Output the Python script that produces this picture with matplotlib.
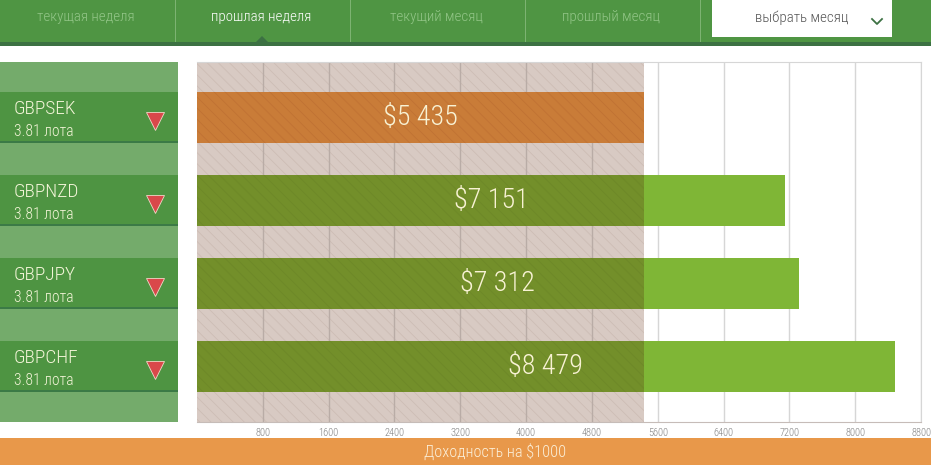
import matplotlib
matplotlib.use('Agg')
import matplotlib.pyplot as plt
from matplotlib.patches import Rectangle, Polygon
from matplotlib import font_manager

pairs = ['GBPSEK', 'GBPNZD', 'GBPJPY', 'GBPCHF']
lots = ['3.81 лота', '3.81 лота', '3.81 лота', '3.81 лота']
profits = [5435, 7151, 7312, 8479]
value_labels = ['$5 435', '$7 151', '$7 312', '$8 479']
xticks = [800, 1600, 2400, 3200, 4000, 4800, 5600, 6400, 7200, 8000, 8800]
tabs = ['текущая неделя', 'прошлая неделя', 'текущий месяц', 'прошлый месяц']
active_tab = 1
select_label = 'выбрать месяц'
footer = 'Доходность на $1000'

# look for a condensed face among installed fonts
entries = font_manager.fontManager.ttflist
fam, stretch, scale = 'DejaVu Sans', 'normal', 0.78
pref_names = ['Roboto Condensed', 'Open Sans Condensed', 'Noto Sans Condensed',
              'Liberation Sans Narrow', 'DejaVu Sans Condensed']
found = False
for pn in pref_names:
    if any(e.name == pn for e in entries):
        fam, stretch, scale, found = pn, 'normal', 0.9, True
        break
if not found:
    for base in ['Noto Sans', 'Open Sans', 'Roboto', 'DejaVu Sans']:
        hits = [e for e in entries if e.name == base and
                (str(e.stretch) in ('condensed', 'semi-condensed', 'extra-condensed')
                 or (isinstance(e.stretch, int) and e.stretch < 500))]
        if hits:
            fam, stretch, scale, found = base, 'condensed', 0.88, True
            break

plt.rcParams['font.family'] = [fam, 'DejaVu Sans']
plt.rcParams['font.stretch'] = stretch
plt.rcParams['font.weight'] = 'light'
plt.rcParams['hatch.linewidth'] = 0.6

W, H = 931, 465
fig = plt.figure(figsize=(W / 100, H / 100), dpi=100)
fig.patch.set_facecolor('white')

def fs(v):
    return v * scale

def fx(x):
    return x / W

def fy(y):
    return 1 - y / H

def frect(x0, y0, x1, y1, color, z=0):
    fig.patches.append(Rectangle((fx(x0), fy(y1)), fx(x1 - x0), (y1 - y0) / H,
                                 transform=fig.transFigure, facecolor=color,
                                 edgecolor='none', zorder=z))

# header
frect(0, 0, W, 42, '#4f9543')
frect(0, 42, W, 46, '#3c7143')
for i, t in enumerate(tabs):
    cx = 86 + i * 175
    fig.text(fx(cx), fy(17), t, ha='center', va='center', fontsize=fs(12),
             color='white' if i == active_tab else '#93c688')
for sx in [175, 350, 525, 700]:
    frect(sx - 0.5, 0, sx + 1, 42, '#7db372', z=1)
acx = 87 + active_tab * 175
fig.patches.append(Polygon([(fx(acx - 7), fy(43)), (fx(acx + 7), fy(43)), (fx(acx), fy(36))],
                           closed=True, transform=fig.transFigure, facecolor='#3c7143',
                           edgecolor='none', zorder=2))
frect(712, 0, 892, 37, 'white', z=2)
fig.text(fx(802), fy(18), select_label, ha='center', va='center', fontsize=fs(12),
         color='#555555', zorder=3)
fig.lines.append(plt.Line2D([fx(872), fx(877), fx(882)], [fy(19), fy(24), fy(19)],
                            transform=fig.transFigure, color='#3c7143', lw=1.3, zorder=3))

# footer
frect(0, 438, W, H, '#e8984a')
fig.text(fx(495), fy(452), footer, ha='center', va='center', fontsize=fs(13), color='#fbefd9')

ylim = (3.67, -0.67)
bh = 0.615
bottom = (H - 422) / H
height = 360 / H

# left panel
axl = fig.add_axes([0, bottom, 178 / W, height])
axl.set_facecolor('#74ab6b')
axl.set_xlim(0, 1)
axl.set_ylim(*ylim)
for s in axl.spines.values():
    s.set_visible(False)
axl.set_xticks([])
axl.set_yticks([])
ys = list(range(len(pairs)))
axl.barh(ys, [1] * len(pairs), height=bh, left=0, color='#4e9442', edgecolor='none')
axl.barh([y + bh / 2 - 0.012 for y in ys], [1] * len(pairs), height=0.025, color='#3b7a46',
         edgecolor='none')
for y, p, l in zip(ys, pairs, lots):
    axl.text(14 / 178, y - 0.1, p, ha='left', va='center', fontsize=fs(15.5), color='#f3f5d8')
    axl.text(14 / 178, y + 0.17, l, ha='left', va='center', fontsize=fs(12.5), color='#f3f5d8')
    axl.plot([155 / 178], [y + 0.04], marker='v', markersize=13, color='#d9484a',
             markeredgecolor='#f0d9c8', markeredgewidth=0.6)

# main chart
ax = fig.add_axes([197 / W, bottom, 724 / W, height])
ax.set_xlim(0, 8800)
ax.set_ylim(*ylim)
minv = min(profits)
ax.axvspan(0, minv, facecolor='#d8cac3', edgecolor='#cdbdb5', hatch='\\\\\\', lw=0, zorder=0)
for t in xticks:
    ax.axvline(t, color='#b9aca6' if t < minv else '#d6d6d6', lw=1, zorder=0.5)
for y, v, lab in zip(ys, profits, value_labels):
    if v == minv:
        ax.barh(y, v, height=bh, color='#c97c38', edgecolor='#c07234', hatch='\\\\\\',
                lw=0, zorder=2)
    else:
        ax.barh(y, v, height=bh, color='#7fb636', edgecolor='none', zorder=2)
        ax.barh(y, minv, height=bh, color='#738f2a', edgecolor='#6d8828', hatch='\\\\\\',
                lw=0, zorder=3)
    ax.text(v / 2, y, lab, ha='center', va='center', fontsize=fs(22.5), color='#f8f2d4', zorder=4)
ax.set_yticks([])
ax.set_xticks(xticks)
ax.set_xticklabels([str(t) for t in xticks], fontsize=fs(8.3), color='#808080')
ax.tick_params(axis='x', length=0, pad=4)
ax.spines['left'].set_visible(False)
for k in ['top', 'right']:
    ax.spines[k].set_color('#d6d6d6')
ax.spines['bottom'].set_color('#c6bcb8')
ax.set_facecolor('white')

fig.savefig('out.png', dpi=100)
